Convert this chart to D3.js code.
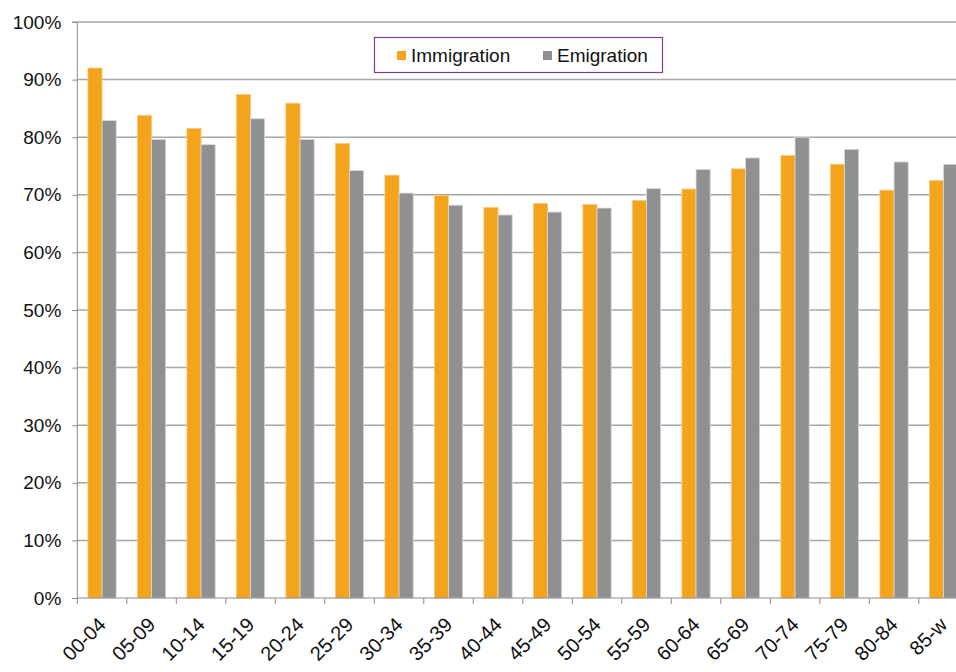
<!DOCTYPE html>
<html><head><meta charset="utf-8">
<script src="https://cdn.jsdelivr.net/npm/d3@7/dist/d3.min.js"></script>
<style>
html,body{margin:0;padding:0;background:#fff;overflow:hidden;}
svg{display:block;font-family:"Liberation Sans",Arial,sans-serif;}
</style></head>
<body>
<svg id="chart" width="956" height="672"></svg>
<script>
const categories = ["00-04","05-09","10-14","15-19","20-24","25-29","30-34","35-39","40-44","45-49","50-54","55-59","60-64","65-69","70-74","75-79","80-84","85-w"];
const immigration = [92.0,83.8,81.5,87.4,85.9,78.9,73.4,69.9,67.8,68.5,68.3,69.0,71.0,74.5,76.8,75.3,70.8,72.5];
const emigration  = [82.9,79.6,78.7,83.2,79.6,74.2,70.3,68.2,66.5,67.0,67.7,71.1,74.4,76.4,80.0,77.9,75.7,75.3];
const seriesNames = ["Immigration","Emigration"];
const seriesColors = ["#F4A41C","#8F9091"];
const yTicks = [0,10,20,30,40,50,60,70,80,90,100];

const svg = d3.select("#chart");
const mLeft = 77.3, mTop = 22, mBottom = 598;
const mRight = mLeft + 49.5 * categories.length;

const x = d3.scaleBand().domain(categories).range([mLeft, mRight]).paddingInner(0).paddingOuter(0);
const y = d3.scaleLinear().domain([0, 100]).range([mBottom, mTop]);
const barW = x.bandwidth() / 3.5;

// gridlines
svg.append("g").selectAll("line").data(yTicks.filter(d => d > 0)).join("line")
  .attr("x1", mLeft).attr("x2", mRight)
  .attr("y1", d => y(d)).attr("y2", d => y(d))
  .attr("stroke", "#A8A8A8").attr("stroke-width", 1.5);

// bars
const data = categories.map((c, i) => ({c, vals: [immigration[i], emigration[i]]}));
const groups = svg.append("g").selectAll("g").data(data).join("g");
groups.selectAll("rect").data(d => d.vals.map((v, k) => ({c: d.c, v, k}))).join("rect")
  .attr("x", d => x(d.c) + x.bandwidth() / 2 - barW + d.k * barW)
  .attr("y", d => y(d.v))
  .attr("width", barW)
  .attr("height", d => y(0) - y(d.v))
  .attr("fill", d => seriesColors[d.k])
  .attr("stroke", d => d.k === 0 ? "#F8C878" : "#DADADA")
  .attr("stroke-width", 0.8);

// y axis
const yAxis = d3.axisLeft(y).tickValues(yTicks).tickSize(5).tickPadding(11).tickFormat(d => d + "%");
const ya = svg.append("g").attr("transform", `translate(${mLeft},0)`).call(yAxis);
ya.select(".domain").attr("stroke", "#8A8A8A").attr("d", `M-5,${mTop}H0V${mBottom}`);
ya.selectAll(".tick line").attr("stroke", "#8A8A8A");
ya.selectAll(".tick text").attr("font-size", 19).attr("fill", "#111").attr("font-family", "Liberation Sans, Arial, sans-serif");

// x axis
const xa = svg.append("g").attr("transform", `translate(0,${mBottom})`);
xa.append("line").attr("x1", mLeft).attr("x2", mRight).attr("y1", 0).attr("y2", 0).attr("stroke", "#8A8A8A");
const bounds = categories.map(c => x(c)).concat([mRight]);
xa.selectAll("line.t").data(bounds).join("line").attr("class", "t")
  .attr("x1", d => d).attr("x2", d => d).attr("y1", 0).attr("y2", 6).attr("stroke", "#8A8A8A");
xa.selectAll("text").data(categories).join("text")
  .attr("transform", d => `translate(${x(d) + x.bandwidth() / 2},${23}) rotate(-45)`)
  .attr("text-anchor", "end").attr("dy", "0.35em")
  .attr("font-size", 20).attr("fill", "#111")
  .text(d => d);

// legend
const lg = svg.append("g");
lg.append("rect").attr("x", 374.5).attr("y", 37.5).attr("width", 288).attr("height", 35)
  .attr("fill", "#fff").attr("stroke", "#7B3F93").attr("stroke-width", 1.2);
const legendX = [397, 543];
seriesNames.forEach((n, i) => {
  lg.append("rect").attr("x", legendX[i]).attr("y", 51).attr("width", 9).attr("height", 9).attr("fill", seriesColors[i]);
  lg.append("text").attr("x", legendX[i] + 14).attr("y", 61.5).attr("font-size", 19).attr("fill", "#111").text(n);
});
</script>
</body></html>
